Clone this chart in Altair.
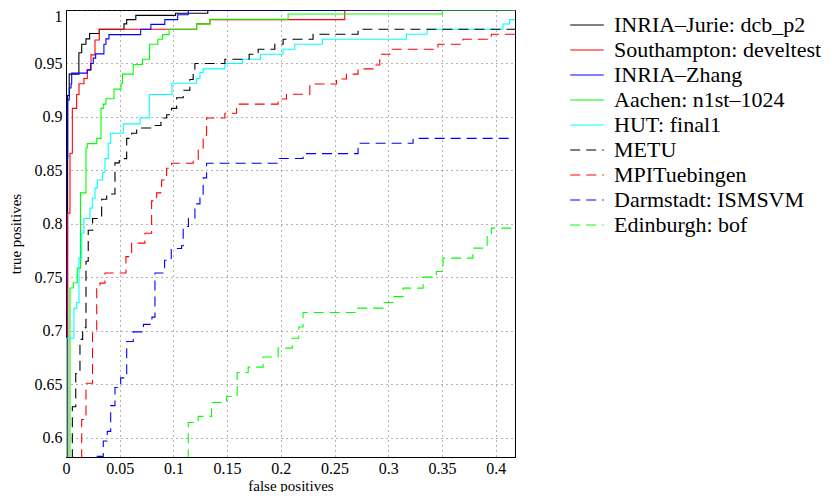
import altair as alt
import pandas as pd

# ---- data ----
series_names = [
    "INRIA–Jurie: dcb_p2",
    "Southampton: develtest",
    "INRIA–Zhang",
    "Aachen: n1st–1024",
    "HUT: final1",
    "METU",
    "MPITuebingen",
    "Darmstadt: ISMSVM",
    "Edinburgh: bof",
]
series_colors = ["#000000", "#ff0000", "#0000ff", "#00ff00", "#00ffff",
                 "#000000", "#ff0000", "#0000ff", "#00ff00"]
series_dashes = [[1, 0], [1, 0], [1, 0], [1, 0], [1, 0],
                 [10, 6], [10, 6], [10, 6], [10, 6]]

jurie_fp = [0, 0.0015, 0.003, 0.012, 0.0146, 0.0186, 0.022, 0.031, 0.054, 0.0565, 0.065, 0.102, 0.132, 0.418]
jurie_tp = [0.58, 0.92, 0.94, 0.96, 0.968, 0.973, 0.978, 0.982, 0.987, 0.991, 0.995, 0.997, 1.0, 1.0]

southampton_fp = [0.0015, 0.0015, 0.0037, 0.0059, 0.0099, 0.0121, 0.0167, 0.0198, 0.0233, 0.027, 0.031, 0.1216, 0.134, 0.2595, 0.418]
southampton_tp = [0.58, 0.81, 0.866, 0.908, 0.921, 0.931, 0.936, 0.944, 0.958, 0.972, 0.982, 0.987, 0.991, 1.0, 1.0]

zhang_fp = [0, 0, 0.0016, 0.0031, 0.0047, 0.0053, 0.0198, 0.023, 0.0254, 0.0276, 0.0353, 0.0372, 0.04, 0.0695, 0.079, 0.092, 0.104, 0.1138, 0.418]
zhang_tp = [0.58, 0.862, 0.916, 0.927, 0.931, 0.941, 0.944, 0.95, 0.955, 0.959, 0.968, 0.973, 0.977, 0.982, 0.9866, 0.991, 0.9956, 1.0, 1.0]

aachen_fp = [0.0037, 0.0037, 0.0068, 0.0105, 0.0135, 0.0186, 0.0198, 0.0286, 0.0326, 0.0347, 0.0372, 0.0447, 0.0512, 0.0527, 0.0626, 0.0713, 0.0778, 0.0855, 0.09, 0.096, 0.1216, 0.134, 0.2068, 0.3504, 0.418]
aachen_tp = [0.58, 0.740, 0.745, 0.7586, 0.829, 0.871, 0.875, 0.880, 0.908, 0.912, 0.917, 0.926, 0.9315, 0.940, 0.949, 0.954, 0.968, 0.9726, 0.977, 0.982, 0.987, 0.9913, 0.9963, 1.0, 1.0]

hut_fp = [0.0005, 0.0005, 0.0074, 0.01, 0.0121, 0.0146, 0.0167, 0.0223, 0.0245, 0.027, 0.0291, 0.0341, 0.0363, 0.0393, 0.0416, 0.0533, 0.069, 0.0775, 0.0986, 0.1216, 0.1247, 0.1277, 0.1479, 0.1644, 0.1811, 0.2021, 0.213, 0.2388, 0.3169, 0.3361, 0.4068, 0.413, 0.418]
hut_tp = [0.58, 0.693, 0.721, 0.7265, 0.768, 0.7915, 0.805, 0.8147, 0.824, 0.8334, 0.841, 0.848, 0.861, 0.8754, 0.8847, 0.8935, 0.899, 0.921, 0.9315, 0.936, 0.9414, 0.9449, 0.950, 0.954, 0.9586, 0.9633, 0.968, 0.9726, 0.9773, 0.982, 0.9869, 0.991, 0.991]

metu_fp = [0.0059, 0.0059, 0.0091, 0.013, 0.0155, 0.0186, 0.0207, 0.0248, 0.0332, 0.0379, 0.0456, 0.0496, 0.0565, 0.0611, 0.0658, 0.0797, 0.0884, 0.0937, 0.0983, 0.103, 0.1091, 0.1153, 0.1184, 0.12, 0.1479, 0.1705, 0.1789, 0.1944, 0.2021, 0.23, 0.2719, 0.418]
metu_tp = [0.58, 0.629, 0.66, 0.692, 0.703, 0.765, 0.794, 0.805, 0.823, 0.828, 0.857, 0.861, 0.880, 0.8847, 0.8897, 0.892, 0.899, 0.902, 0.908, 0.918, 0.925, 0.935, 0.9446, 0.950, 0.954, 0.9586, 0.9633, 0.968, 0.9726, 0.9773, 0.982, 0.982]

mpi_fp = [0.0146, 0.0146, 0.0186, 0.0247, 0.0286, 0.0316, 0.0363, 0.0558, 0.0611, 0.0735, 0.0797, 0.0844, 0.089, 0.0937, 0.0983, 0.1184, 0.1231, 0.1277, 0.1309, 0.1479, 0.1588, 0.1975, 0.2053, 0.227, 0.2518, 0.2611, 0.2719, 0.2859, 0.2921, 0.3014, 0.3463, 0.3696, 0.396, 0.418]
mpi_tp = [0.58, 0.617, 0.651, 0.698, 0.7405, 0.7446, 0.754, 0.7694, 0.782, 0.7913, 0.8215, 0.829, 0.841, 0.852, 0.8567, 0.86, 0.869, 0.883, 0.899, 0.9034, 0.912, 0.9168, 0.9212, 0.9308, 0.9355, 0.940, 0.9449, 0.9486, 0.9586, 0.9633, 0.968, 0.9726, 0.9773, 0.9773]

darmstadt_fp = [0.0286, 0.0347, 0.0384, 0.0416, 0.0456, 0.0509, 0.0565, 0.0626, 0.0721, 0.08, 0.0828, 0.0918, 0.098, 0.1076, 0.1091, 0.114, 0.12, 0.1247, 0.1277, 0.1309, 0.1975, 0.2207, 0.2719, 0.3231, 0.413]
darmstadt_tp = [0.5826, 0.597, 0.606, 0.63, 0.647, 0.656, 0.69, 0.699, 0.706, 0.7128, 0.754, 0.766, 0.777, 0.7795, 0.7975, 0.8053, 0.8187, 0.826, 0.843, 0.8567, 0.8612, 0.8657, 0.8754, 0.880, 0.880]

edinburgh_fp = [0.1138, 0.1138, 0.1231, 0.1355, 0.1495, 0.1594, 0.1696, 0.1835, 0.1975, 0.2107, 0.2167, 0.2207, 0.2719, 0.2952, 0.3053, 0.3138, 0.3324, 0.3448, 0.351, 0.3789, 0.3921, 0.396, 0.418]
edinburgh_tp = [0.58, 0.6143, 0.620, 0.633, 0.6386, 0.661, 0.666, 0.6755, 0.6838, 0.693, 0.7035, 0.7171, 0.7212, 0.7265, 0.732, 0.7399, 0.7502, 0.7555, 0.768, 0.7773, 0.79, 0.796, 0.796]

x_ticks = [0, 0.05, 0.1, 0.15, 0.2, 0.25, 0.3, 0.35, 0.4]
y_ticks = [0.6, 0.65, 0.7, 0.75, 0.8, 0.85, 0.9, 0.95, 1.0]
x_domain = [0, 0.418]
y_domain = [0.582, 1.0]

all_fp = [jurie_fp, southampton_fp, zhang_fp, aachen_fp, hut_fp, metu_fp, mpi_fp, darmstadt_fp, edinburgh_fp]
all_tp = [jurie_tp, southampton_tp, zhang_tp, aachen_tp, hut_tp, metu_tp, mpi_tp, darmstadt_tp, edinburgh_tp]

rows = []
for name, fps, tps in zip(series_names, all_fp, all_tp):
    for i, (fx, ty) in enumerate(zip(fps, tps)):
        rows.append({"series": name, "fp": fx, "tp": ty, "i": i})
df = pd.DataFrame(rows)

FONT = "Liberation Serif"

chart = alt.Chart(df).mark_line(
    interpolate="step-after", clip=True, strokeWidth=1.1
).encode(
    x=alt.X("fp:Q", title="false positives",
            scale=alt.Scale(domain=x_domain, nice=False, zero=False),
            axis=alt.Axis(values=x_ticks, format="~g", labelPadding=3, titlePadding=2,
                          labelFlush=False)),
    y=alt.Y("tp:Q", title="true positives",
            scale=alt.Scale(domain=y_domain, nice=False, zero=False),
            axis=alt.Axis(values=y_ticks, format="~g", labelPadding=4, titlePadding=11,
                          labelFlush=True, labelFlushOffset=2)),
    color=alt.Color("series:N", sort=series_names, title=None,
                    scale=alt.Scale(domain=series_names, range=series_colors)),
    strokeDash=alt.StrokeDash("series:N", sort=series_names, title=None,
                              scale=alt.Scale(domain=series_names, range=series_dashes)),
    order="i:Q",
    detail="series:N",
).properties(
    width=449, height=447,
    autosize=alt.AutoSizeParams(type="none"),
    padding={"left": 58, "top": 2, "right": 309, "bottom": 35},
).configure_view(
    stroke="#000000", strokeWidth=1
).configure_axis(
    labelFont=FONT, titleFont=FONT, labelFontSize=16, titleFontSize=15,
    labelColor="#000000", titleColor="#000000", titleFontWeight="normal",
    domainColor="#000000", ticks=False,
    grid=True, gridColor="#444444", gridDash=[1, 4], gridOpacity=0.8, gridWidth=1,
).configure_legend(
    orient="none", legendX=509, legendY=3,
    labelFont=FONT, labelFontSize=22, labelColor="#000000",
    symbolType="M-1.5,0L1.5,0", symbolSize=500, symbolStrokeWidth=1.1,
    labelOffset=15, rowPadding=2.0, padding=0, labelLimit=400,
)

chart.save("out.html", embed_options={"renderer": "svg", "actions": False})
